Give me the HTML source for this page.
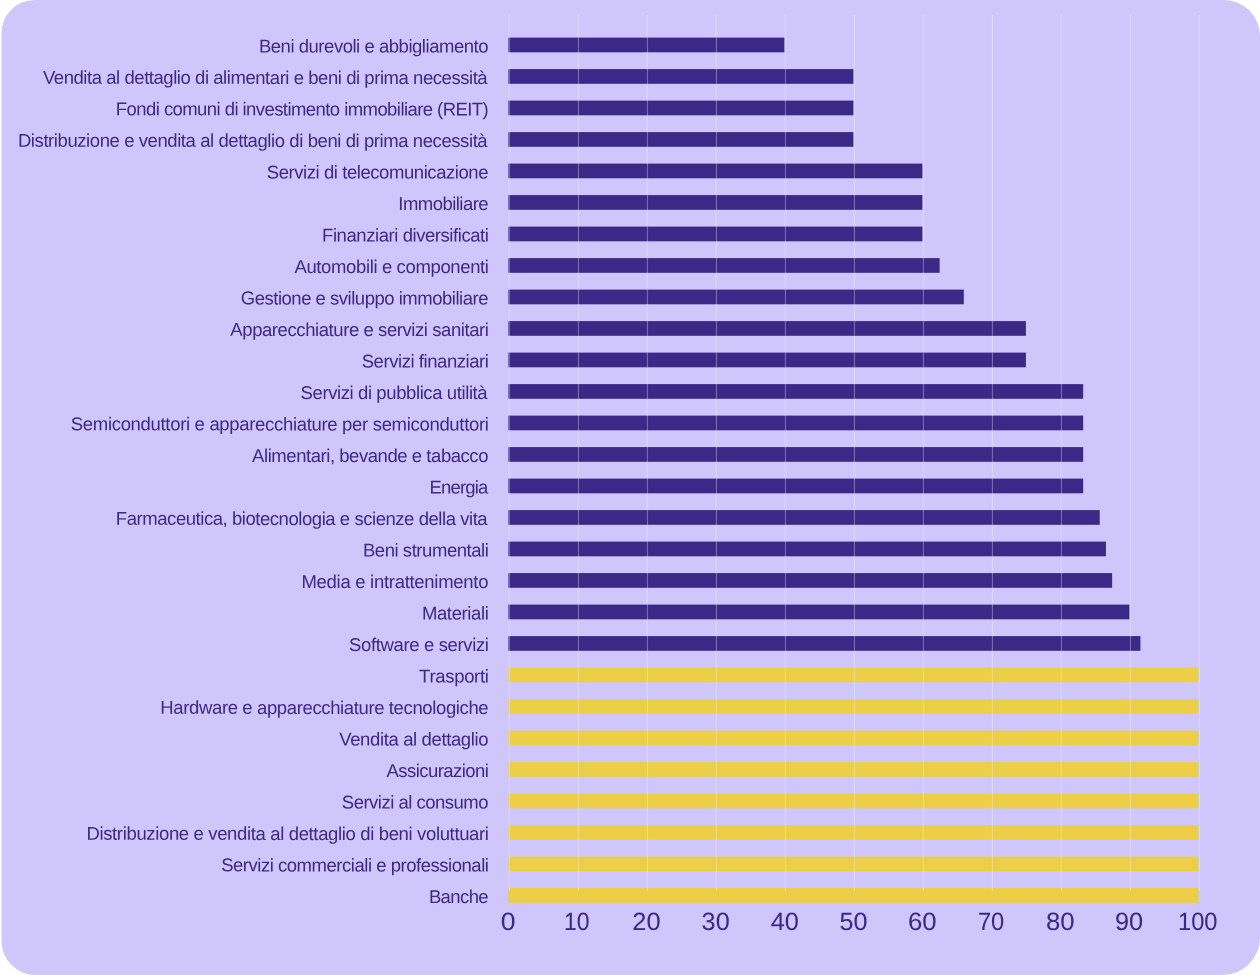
<!DOCTYPE html>
<html lang="it"><head><meta charset="utf-8"><title>Grafico settori</title>
<style>
html,body{margin:0;padding:0;background:#fff;}
body{width:1260px;height:975px;overflow:hidden;}
svg{display:block;}
text{font-family:"Liberation Sans",sans-serif;fill:#3A2987;}
.lab{font-size:18.5px;text-anchor:end;}
.tick{font-size:25px;text-anchor:middle;stroke:#3A2987;stroke-width:0.05px;}
</style></head><body>
<svg width="1260" height="975" viewBox="0 0 1260 975">
<path d="M34.5 0H1224A36 36 0 0 1 1260 36V937.5A37.5 37.5 0 0 1 1222.5 975H35.5A34 34 0 0 1 1.5 941V33A33 33 0 0 1 34.5 0Z" fill="#CFC6FC"/>
<g id="bars">
<rect x="508.4" y="37.60" width="276.00" height="14.7" fill="#3A2987"/>
<rect x="508.4" y="69.10" width="345.00" height="14.7" fill="#3A2987"/>
<rect x="508.4" y="100.60" width="345.00" height="14.7" fill="#3A2987"/>
<rect x="508.4" y="132.10" width="345.00" height="14.7" fill="#3A2987"/>
<rect x="508.4" y="163.60" width="414.00" height="14.7" fill="#3A2987"/>
<rect x="508.4" y="195.10" width="414.00" height="14.7" fill="#3A2987"/>
<rect x="508.4" y="226.60" width="414.00" height="14.7" fill="#3A2987"/>
<rect x="508.4" y="258.10" width="431.25" height="14.7" fill="#3A2987"/>
<rect x="508.4" y="289.60" width="455.40" height="14.7" fill="#3A2987"/>
<rect x="508.4" y="321.10" width="517.50" height="14.7" fill="#3A2987"/>
<rect x="508.4" y="352.60" width="517.50" height="14.7" fill="#3A2987"/>
<rect x="508.4" y="384.10" width="574.77" height="14.7" fill="#3A2987"/>
<rect x="508.4" y="415.60" width="574.77" height="14.7" fill="#3A2987"/>
<rect x="508.4" y="447.10" width="574.77" height="14.7" fill="#3A2987"/>
<rect x="508.4" y="478.60" width="574.77" height="14.7" fill="#3A2987"/>
<rect x="508.4" y="510.10" width="591.33" height="14.7" fill="#3A2987"/>
<rect x="508.4" y="541.60" width="597.54" height="14.7" fill="#3A2987"/>
<rect x="508.4" y="573.10" width="603.75" height="14.7" fill="#3A2987"/>
<rect x="508.4" y="604.60" width="621.00" height="14.7" fill="#3A2987"/>
<rect x="508.4" y="636.10" width="632.04" height="14.7" fill="#3A2987"/>
<rect x="508.4" y="667.60" width="690.00" height="14.7" fill="#ECCF47"/>
<rect x="508.4" y="699.10" width="690.00" height="14.7" fill="#ECCF47"/>
<rect x="508.4" y="730.60" width="690.00" height="14.7" fill="#ECCF47"/>
<rect x="508.4" y="762.10" width="690.00" height="14.7" fill="#ECCF47"/>
<rect x="508.4" y="793.60" width="690.00" height="14.7" fill="#ECCF47"/>
<rect x="508.4" y="825.10" width="690.00" height="14.7" fill="#ECCF47"/>
<rect x="508.4" y="856.60" width="690.00" height="14.7" fill="#ECCF47"/>
<rect x="508.4" y="888.10" width="690.00" height="14.7" fill="#ECCF47"/>
</g>
<g id="grid">
<rect x="508.85" y="15" width="1.2" height="876" fill="#fff" fill-opacity="0.3"/>
<rect x="577.85" y="15" width="1.2" height="876" fill="#fff" fill-opacity="0.3"/>
<rect x="646.85" y="15" width="1.2" height="876" fill="#fff" fill-opacity="0.3"/>
<rect x="715.85" y="15" width="1.2" height="876" fill="#fff" fill-opacity="0.3"/>
<rect x="784.85" y="15" width="1.2" height="876" fill="#fff" fill-opacity="0.3"/>
<rect x="853.85" y="15" width="1.2" height="876" fill="#fff" fill-opacity="0.3"/>
<rect x="922.85" y="15" width="1.2" height="876" fill="#fff" fill-opacity="0.3"/>
<rect x="991.85" y="15" width="1.2" height="876" fill="#fff" fill-opacity="0.3"/>
<rect x="1060.85" y="15" width="1.2" height="876" fill="#fff" fill-opacity="0.3"/>
<rect x="1129.85" y="15" width="1.2" height="876" fill="#fff" fill-opacity="0.3"/>
<rect x="1198.85" y="15" width="1.2" height="876" fill="#fff" fill-opacity="0.3"/>
</g>
<g id="labels">
<text class="lab" transform="translate(488.50,52.50) rotate(0.03)" textLength="229.61" lengthAdjust="spacing">Beni durevoli e abbigliamento</text>
<text class="lab" transform="translate(487.63,84.00) rotate(0.03)" textLength="444.69" lengthAdjust="spacing">Vendita al dettaglio di alimentari e beni di prima necessità</text>
<text class="lab" transform="translate(488.73,115.50) rotate(0.03)" textLength="372.88" lengthAdjust="spacing">Fondi comuni di investimento immobiliare (REIT)</text>
<text class="lab" transform="translate(487.63,147.00) rotate(0.03)" textLength="469.72" lengthAdjust="spacing">Distribuzione e vendita al dettaglio di beni di prima necessità</text>
<text class="lab" transform="translate(488.51,178.50) rotate(0.03)" textLength="221.74" lengthAdjust="spacing">Servizi di telecomunicazione</text>
<text class="lab" transform="translate(488.64,210.00) rotate(0.03)" textLength="90.37" lengthAdjust="spacing">Immobiliare</text>
<text class="lab" transform="translate(488.90,241.50) rotate(0.03)" textLength="166.84" lengthAdjust="spacing">Finanziari diversificati</text>
<text class="lab" transform="translate(488.97,273.00) rotate(0.03)" textLength="194.57" lengthAdjust="spacing">Automobili e componenti</text>
<text class="lab" transform="translate(488.51,304.50) rotate(0.03)" textLength="247.72" lengthAdjust="spacing">Gestione e sviluppo immobiliare</text>
<text class="lab" transform="translate(488.97,336.00) rotate(0.03)" textLength="258.64" lengthAdjust="spacing">Apparecchiature e servizi sanitari</text>
<text class="lab" transform="translate(488.90,367.50) rotate(0.03)" textLength="127.19" lengthAdjust="spacing">Servizi finanziari</text>
<text class="lab" transform="translate(487.63,399.00) rotate(0.03)" textLength="187.08" lengthAdjust="spacing">Servizi di pubblica utilità</text>
<text class="lab" transform="translate(488.90,430.50) rotate(0.03)" textLength="418.09" lengthAdjust="spacing">Semiconduttori e apparecchiature per semiconduttori</text>
<text class="lab" transform="translate(488.46,462.00) rotate(0.03)" textLength="236.38" lengthAdjust="spacing">Alimentari, bevande e tabacco</text>
<text class="lab" transform="translate(488.39,493.50) rotate(0.03)" textLength="58.93" lengthAdjust="spacing">Energia</text>
<text class="lab" transform="translate(487.63,525.00) rotate(0.03)" textLength="371.77" lengthAdjust="spacing">Farmaceutica, biotecnologia e scienze della vita</text>
<text class="lab" transform="translate(488.90,556.50) rotate(0.03)" textLength="126.01" lengthAdjust="spacing">Beni strumentali</text>
<text class="lab" transform="translate(488.46,588.00) rotate(0.03)" textLength="187.06" lengthAdjust="spacing">Media e intrattenimento</text>
<text class="lab" transform="translate(488.90,619.50) rotate(0.03)" textLength="67.01" lengthAdjust="spacing">Materiali</text>
<text class="lab" transform="translate(488.97,651.00) rotate(0.03)" textLength="139.87" lengthAdjust="spacing">Software e servizi</text>
<text class="lab" transform="translate(488.90,682.50) rotate(0.03)" textLength="69.82" lengthAdjust="spacing">Trasporti</text>
<text class="lab" transform="translate(488.64,714.00) rotate(0.03)" textLength="328.28" lengthAdjust="spacing">Hardware e apparecchiature tecnologiche</text>
<text class="lab" transform="translate(488.50,745.50) rotate(0.03)" textLength="149.26" lengthAdjust="spacing">Vendita al dettaglio</text>
<text class="lab" transform="translate(488.97,777.00) rotate(0.03)" textLength="102.57" lengthAdjust="spacing">Assicurazioni</text>
<text class="lab" transform="translate(488.50,808.50) rotate(0.03)" textLength="146.71" lengthAdjust="spacing">Servizi al consumo</text>
<text class="lab" transform="translate(488.97,840.00) rotate(0.03)" textLength="402.56" lengthAdjust="spacing">Distribuzione e vendita al dettaglio di beni voluttuari</text>
<text class="lab" transform="translate(488.90,871.50) rotate(0.03)" textLength="267.75" lengthAdjust="spacing">Servizi commerciali e professionali</text>
<text class="lab" transform="translate(488.64,903.00) rotate(0.03)" textLength="59.76" lengthAdjust="spacing">Banche</text>
</g>
<g id="ticks">
<text class="tick" transform="translate(508.22,929.9) rotate(0.03)" textLength="14.74" lengthAdjust="spacingAndGlyphs">0</text>
<text class="tick" transform="translate(576.75,929.9) rotate(0.03)" textLength="25.52" lengthAdjust="spacingAndGlyphs">10</text>
<text class="tick" transform="translate(646.41,929.9) rotate(0.03)" textLength="28.28" lengthAdjust="spacingAndGlyphs">20</text>
<text class="tick" transform="translate(715.64,929.9) rotate(0.03)" textLength="28.04" lengthAdjust="spacingAndGlyphs">30</text>
<text class="tick" transform="translate(784.74,929.9) rotate(0.03)" textLength="28.08" lengthAdjust="spacingAndGlyphs">40</text>
<text class="tick" transform="translate(853.48,929.9) rotate(0.03)" textLength="27.93" lengthAdjust="spacingAndGlyphs">50</text>
<text class="tick" transform="translate(922.16,929.9) rotate(0.03)" textLength="28.55" lengthAdjust="spacingAndGlyphs">60</text>
<text class="tick" transform="translate(991.09,929.9) rotate(0.03)" textLength="26.34" lengthAdjust="spacingAndGlyphs">70</text>
<text class="tick" transform="translate(1060.32,929.9) rotate(0.03)" textLength="28.59" lengthAdjust="spacingAndGlyphs">80</text>
<text class="tick" transform="translate(1129.09,929.9) rotate(0.03)" textLength="28.15" lengthAdjust="spacingAndGlyphs">90</text>
<text class="tick" transform="translate(1197.74,929.9) rotate(0.03)" textLength="39.45" lengthAdjust="spacingAndGlyphs">100</text>
</g>
</svg>
</body></html>
